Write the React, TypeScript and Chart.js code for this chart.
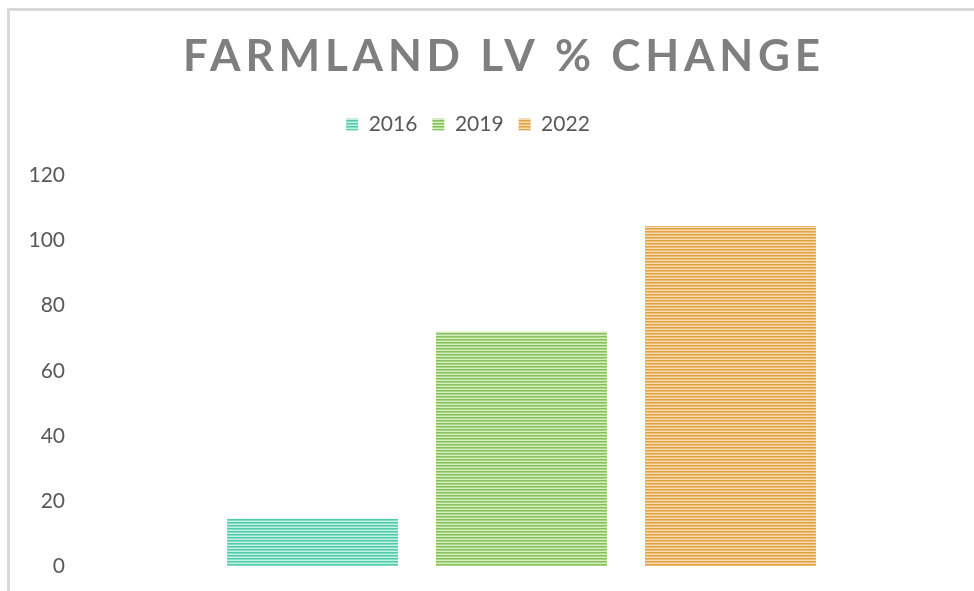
import React, { useEffect, useRef } from 'react';
import { Chart, registerables } from 'chart.js';

Chart.register(...registerables);

const TITLE = 'FARMLAND LV % CHANGE';
const categories = [''];
const seriesLabels = ['2016', '2019', '2022'];
const values2016 = [14.5];
const values2019 = [72];
const values2022 = [104.5];
const yMin = 0;
const yMax = 120;
const yStep = 20;

const stripeColors = [
  ['#4fcdab', '#86dcc5', '#c4efe3'],
  ['#86c25a', '#a9d486', '#d6ecc3'],
  ['#e3a140', '#ebbb75', '#f6dcb2'],
];

const FONT = 'Lato';

function makePattern(ctx: CanvasRenderingContext2D, cols: string[]) {
  const c = document.createElement('canvas');
  c.width = 4;
  c.height = 3;
  const x = c.getContext('2d')!;
  x.fillStyle = cols[0];
  x.fillRect(0, 0, 4, 1);
  x.fillStyle = cols[1];
  x.fillRect(0, 1, 4, 1);
  x.fillStyle = cols[2];
  x.fillRect(0, 2, 4, 1);
  return ctx.createPattern(c, 'repeat')!;
}

const framePlugin = {
  id: 'frame',
  beforeDraw(chart: any) {
    const ctx = chart.ctx;
    ctx.save();
    ctx.fillStyle = '#d9d9d9';
    ctx.fillRect(7, 8, chart.width - 7, 3);
    ctx.fillRect(7, 8, 3, chart.height - 8);
    ctx.restore();

    const tb = chart.titleBlock;
    if (tb && !tb.__patched) {
      const orig = tb.draw;
      tb.draw = function (...a: any[]) {
        const c = this.ctx;
        c.save();
        c.font = `bold 44px ${FONT}`;
        (c as any).letterSpacing = '0px';
        const w = c.measureText(TITLE).width;
        const ls = (637 - w) / (TITLE.length - 1);
        (c as any).letterSpacing = ls + 'px';
        c.translate(501.5 - (this.left + this.right) / 2 + ls / 2, 0);
        orig.apply(this, a);
        c.restore();
      };
      tb.__patched = true;
    }
    const lg = chart.legend;
    if (lg && !lg.__patched) {
      const orig = lg.draw;
      lg.draw = function (...a: any[]) {
        const c = this.ctx;
        const hb = this.legendHitBoxes || [];
        let dx = 0;
        if (hb.length) {
          const last = hb[hb.length - 1];
          const center = (hb[0].left + last.left + last.width) / 2;
          dx = 468 - center;
        }
        c.save();
        c.translate(dx, 0);
        orig.apply(this, a);
        c.restore();
      };
      lg.__patched = true;
    }
  },
};

export default function App() {
  const ref = useRef<HTMLCanvasElement>(null);
  useEffect(() => {
    const canvas = ref.current!;
    const ctx = canvas.getContext('2d')!;
    const series = [values2016, values2019, values2022];
    const chart = new Chart(ctx, {
      type: 'bar',
      data: {
        labels: categories,
        datasets: series.map((vals, i) => ({
          label: seriesLabels[i],
          data: vals,
          backgroundColor: makePattern(ctx, stripeColors[i]),
          borderWidth: 0,
          categoryPercentage: 0.702,
          barPercentage: 0.818,
        })),
      },
      options: {
        animation: false,
        responsive: false,
        events: [],
        layout: { padding: { top: 10, left: 0, right: 6, bottom: 25 } },
        plugins: {
          title: {
            display: true,
            text: TITLE,
            color: '#7f7f7f',
            font: { family: FONT, size: 44, weight: 'bold' },
            padding: { top: 20, bottom: 16.2 },
          },
          subtitle: {
            display: true,
            text: '',
            weight: 500,
            font: { size: 10, lineHeight: 1 },
            padding: { top: 10, bottom: 10.5 },
          } as any,
          legend: {
            display: true,
            position: 'top',
            labels: {
              font: { family: FONT, size: 21 },
              color: '#595959',
              boxWidth: 12,
              boxHeight: 12,
              padding: 15,
            },
          },
          tooltip: { enabled: false },
        },
        scales: {
          x: { display: false },
          y: {
            min: yMin,
            max: yMax,
            grid: { display: false, drawTicks: false },
            border: { display: false },
            ticks: {
              stepSize: yStep,
              color: '#595959',
              font: { family: FONT, size: 21 },
              padding: 10,
            },
            afterFit(scale: any) {
              scale.width = 75;
            },
          },
        },
      },
      plugins: [framePlugin],
    });
    chart.draw();
    return () => chart.destroy();
  }, []);
  return (
    <div style={{ position: 'fixed', left: 0, top: 0, width: 974, height: 591, background: '#fff' }}>
      <canvas ref={ref} width={974} height={591} style={{ display: 'block' }} />
    </div>
  );
}
